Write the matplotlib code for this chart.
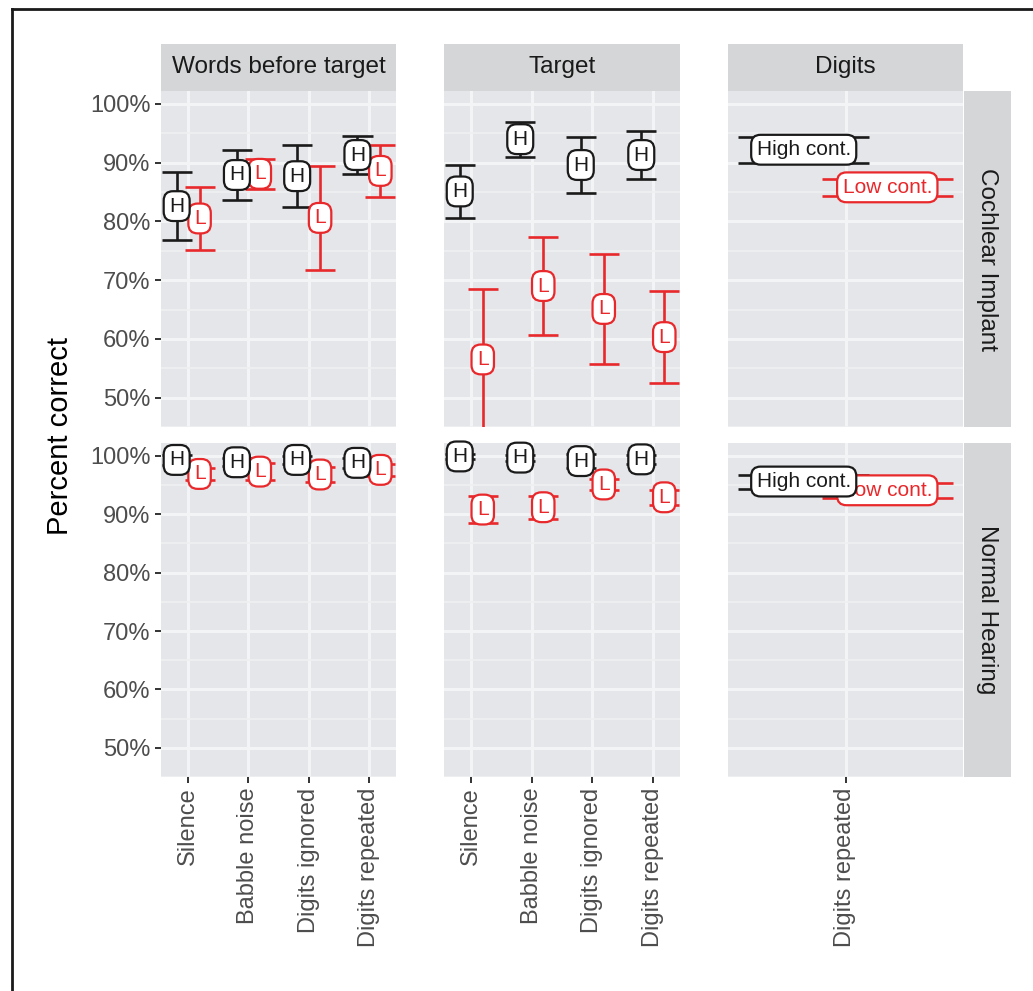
import matplotlib
matplotlib.use("Agg")
import matplotlib.pyplot as plt
from matplotlib.lines import Line2D
import numpy as np

plt.rcParams['font.family'] = ['Liberation Sans', 'DejaVu Sans']

# conditions on the x axis
conditions = ["Silence", "Babble noise", "Digits ignored", "Digits repeated"]
digit_conditions = ["Digits repeated"]
col_titles = ["Words before target", "Target", "Digits"]
row_titles = ["Cochlear Implant", "Normal Hearing"]

# Cochlear implant group: mean % correct and half-width of the error bar
ci_words_high = [82.6, 87.9, 87.7, 91.3]
ci_words_high_err = [5.8, 4.3, 5.3, 3.3]
ci_words_low = [80.5, 88.1, 80.6, 88.6]
ci_words_low_err = [5.3, 2.6, 8.9, 4.4]
ci_target_high = [85.1, 94.0, 89.6, 91.3]
ci_target_high_err = [4.5, 3.0, 4.7, 4.1]
ci_target_low = [56.5, 69.0, 65.1, 60.3]
ci_target_low_err = [12.0, 8.4, 9.3, 7.8]
ci_digits_high = [92.2]
ci_digits_high_err = [2.2]
ci_digits_low = [85.8]
ci_digits_low_err = [1.4]

# Normal hearing group
nh_words_high = [99.3, 98.9, 99.3, 98.8]
nh_words_high_err = [0.8, 0.7, 0.7, 0.8]
nh_words_low = [96.9, 97.3, 96.8, 97.6]
nh_words_low_err = [1.1, 1.4, 1.3, 1.0]
nh_target_high = [99.9, 99.7, 99.1, 99.4]
nh_target_high_err = [0.5, 0.5, 1.2, 0.8]
nh_target_low = [90.8, 91.2, 95.1, 92.9]
nh_target_low_err = [2.3, 2.0, 1.0, 1.3]
nh_digits_high = [95.6]
nh_digits_high_err = [1.2]
nh_digits_low = [94.1]
nh_digits_low_err = [1.3]

BLACK = "#1a1a1a"
RED = "#e8282b"
PANEL_BG = "#e5e6e9"
STRIP_BG = "#d5d6d8"
TICK_COL = "#4d4d4d"

W, H = 1033, 991
fig = plt.figure(figsize=(W / 100, H / 100), dpi=100)


def px_axes(x0, y0, x1, y1):
    return fig.add_axes([x0 / W, 1 - y1 / H, (x1 - x0) / W, (y1 - y0) / H])


def draw_group(ax, xs, means, errs, color, text, z):
    means = np.asarray(means)
    errs = np.asarray(errs)
    ax.vlines(xs, means - errs, means + errs, color=color, lw=1.9, zorder=2)
    ax.hlines(means - errs, xs - 0.25, xs + 0.25, color=color, lw=1.9, zorder=2)
    ax.hlines(means + errs, xs - 0.25, xs + 0.25, color=color, lw=1.9, zorder=2)
    for x, m in zip(xs, means):
        ax.text(x, m, text, ha="center", va="center", fontsize=15, color=color,
                zorder=z,
                bbox=dict(boxstyle="round,pad=0.26,rounding_size=0.45",
                          fc="white", ec=color, lw=1.6))


col_x = [(161, 396), (444, 680), (728, 963)]
row_y = [(91, 427), (443, 777)]

panel_data = [
    [(ci_words_high, ci_words_high_err, ci_words_low, ci_words_low_err),
     (ci_target_high, ci_target_high_err, ci_target_low, ci_target_low_err),
     (ci_digits_high, ci_digits_high_err, ci_digits_low, ci_digits_low_err)],
    [(nh_words_high, nh_words_high_err, nh_words_low, nh_words_low_err),
     (nh_target_high, nh_target_high_err, nh_target_low, nh_target_low_err),
     (nh_digits_high, nh_digits_high_err, nh_digits_low, nh_digits_low_err)],
]

for r, (y0, y1) in enumerate(row_y):
    for c, (x0, x1) in enumerate(col_x):
        ax = px_axes(x0, y0, x1, y1)
        ax.set_facecolor(PANEL_BG)
        for s in ax.spines.values():
            s.set_visible(False)
        labels = digit_conditions if c == 2 else conditions
        xs = np.arange(1, len(labels) + 1, dtype=float)
        if c == 2:
            ax.set_xlim(0.55, 1.45)
            dodge = 0.16
            hi_txt, lo_txt = "High cont.", "Low cont."
        else:
            ax.set_xlim(0.55, 4.45)
            dodge = 0.19
            hi_txt, lo_txt = "H", "L"
        ax.set_ylim(45.3, 102.2)

        ax.set_yticks(np.arange(50, 101, 10))
        ax.set_yticks(np.arange(45, 100, 10), minor=True)
        ax.set_xticks(xs)
        ax.grid(which="major", color="#f3f4f6", lw=2.2)
        ax.grid(which="minor", axis="y", color="#eff0f2", lw=1.2)
        ax.set_axisbelow(True)

        ax.tick_params(which="minor", length=0)
        ax.tick_params(which="major", length=4.5, width=1.4, color="#333333",
                       labelsize=17, labelcolor=TICK_COL, pad=3)
        if c == 0:
            ax.set_yticklabels([f"{v}%" for v in range(50, 101, 10)])
        else:
            ax.tick_params(axis="y", length=0, labelleft=False)
        if r == 1:
            ax.set_xticklabels(labels, rotation=90, ha="center", va="top")
        else:
            ax.tick_params(axis="x", length=0, labelbottom=False)

        hi, hi_err, lo, lo_err = panel_data[r][c]
        draw_group(ax, xs + dodge, lo, lo_err, RED, lo_txt, 3)
        draw_group(ax, xs - dodge, hi, hi_err, BLACK, hi_txt, 4)

# column strips
for c, (x0, x1) in enumerate(col_x):
    sax = px_axes(x0, 44, x1, 91)
    sax.set_facecolor(STRIP_BG)
    sax.set_xticks([])
    sax.set_yticks([])
    for s in sax.spines.values():
        s.set_visible(False)
    sax.text(0.5, 0.5, col_titles[c], ha="center", va="center", fontsize=17.5,
             color=BLACK, transform=sax.transAxes)

# row strips
for r, (y0, y1) in enumerate(row_y):
    sax = px_axes(964, y0, 1011, y1)
    sax.set_facecolor(STRIP_BG)
    sax.set_xticks([])
    sax.set_yticks([])
    for s in sax.spines.values():
        s.set_visible(False)
    sax.text(0.5, 0.5, row_titles[r], ha="center", va="center", fontsize=17.5,
             color=BLACK, rotation=-90, transform=sax.transAxes)

fig.text(60 / W, 1 - 436 / H, "Percent correct", rotation=90, ha="center",
         va="center", fontsize=21, color="black")

# frame lines on left and top
fig.add_artist(Line2D([12 / W, 12 / W], [0, 1 - 9 / H], transform=fig.transFigure,
                      color=BLACK, lw=2))
fig.add_artist(Line2D([12 / W, 1], [1 - 9 / H, 1 - 9 / H], transform=fig.transFigure,
                      color=BLACK, lw=2))

fig.savefig("out.png", dpi=100, facecolor="white")
